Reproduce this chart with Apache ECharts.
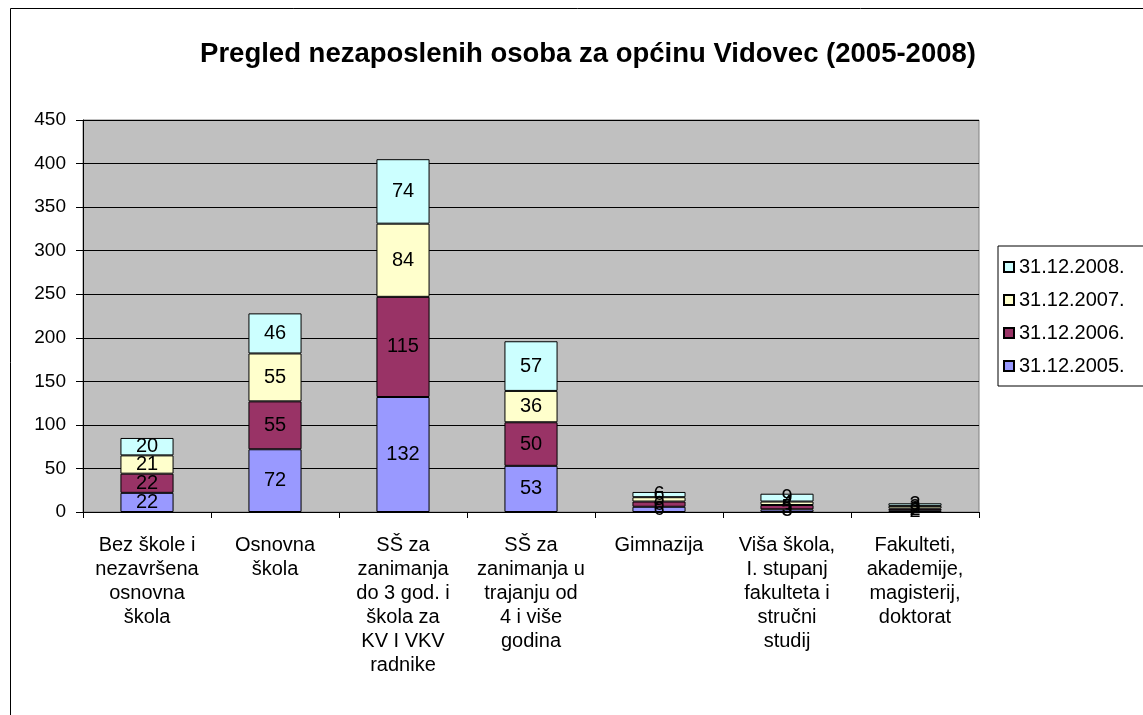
<!DOCTYPE html>
<html>
<head>
<meta charset="utf-8">
<script src="https://cdn.jsdelivr.net/npm/echarts@6/dist/echarts.min.js"></script>
<style>
  html, body { margin: 0; padding: 0; background: #fff; }
  #chart { width: 1143px; height: 715px; }
</style>
</head>
<body>
<div id="chart"></div>
<script>
const categories = [
  'Bez škole i\nnezavršena\nosnovna\nškola',
  'Osnovna\nškola',
  'SŠ za\nzanimanja\ndo 3 god. i\nškola za\nKV I VKV\nradnike',
  'SŠ za\nzanimanja u\ntrajanju od\n4 i više\ngodina',
  'Gimnazija',
  'Viša škola,\nI. stupanj\nfakulteta i\nstručni\nstudij',
  'Fakulteti,\nakademije,\nmagisterij,\ndoktorat'
]
const y2005 = [22, 72, 132, 53, 6, 3, 2]
const y2006 = [22, 55, 115, 50, 6, 5, 2]
const y2007 = [21, 55, 84, 36, 5, 4, 3]
const y2008 = [20, 46, 74, 57, 6, 9, 3]

const chart = echarts.init(document.getElementById('chart'))
const font = 'Liberation Sans, Arial, sans-serif'

function makeSeries(name, data, color) {
  return {
    name: name,
    type: 'bar',
    stack: 'total',
    barWidth: '41.5%',
    data: data,
    itemStyle: { color: color, borderColor: '#000', borderWidth: 1 },
    label: {
      show: true,
      position: 'inside',
      color: '#000',
      fontSize: 20,
      fontFamily: font
    }
  }
}

const option = {
  animation: false,
  title: {
    text: 'Pregled nezaposlenih osoba za općinu Vidovec (2005-2008)',
    left: 583,
    top: 35,
    textAlign: 'center',
    textStyle: { fontSize: 27.5, fontWeight: 'bold', fontFamily: font, color: '#000' }
  },
  graphic: [
    {
      type: 'rect',
      shape: { x: 10.5, y: 8.5, width: 1140, height: 720 },
      style: { fill: 'none', stroke: '#000', lineWidth: 1 },
      z: -10
    }
  ],
  legend: {
    orient: 'vertical',
    left: 998,
    top: 246,
    width: 160,
    padding: [11, 30, 10, 5],
    itemGap: 13,
    itemWidth: 10,
    itemHeight: 10,
    borderColor: '#000',
    borderWidth: 1,
    icon: 'rect',
    data: ['31.12.2008.', '31.12.2007.', '31.12.2006.', '31.12.2005.'],
    textStyle: { fontSize: 20, lineHeight: 20, fontFamily: font, color: '#000', padding: [0, 0, 0, 0] }
  },
  grid: {
    left: 83,
    right: 164,
    top: 120,
    bottom: 203,
    backgroundColor: '#c0c0c0',
    show: true,
    borderWidth: 1,
    borderColor: '#808080'
  },
  xAxis: {
    type: 'category',
    data: categories,
    axisLine: { lineStyle: { color: '#000' } },
    axisTick: { show: true, length: 6, lineStyle: { color: '#000' } },
    axisLabel: {
      interval: 0,
      color: '#000',
      fontSize: 20,
      fontFamily: font,
      lineHeight: 24,
      margin: 21,
      align: 'center'
    }
  },
  yAxis: {
    type: 'value',
    min: 0,
    max: 450,
    interval: 50,
    axisLine: { show: true, lineStyle: { color: '#000' } },
    axisTick: { show: true, length: 7, lineStyle: { color: '#000' } },
    splitLine: { lineStyle: { color: '#000' } },
    axisLabel: { color: '#000', fontSize: 19, fontFamily: font, margin: 17 }
  },
  series: [
    makeSeries('31.12.2005.', y2005, '#9999ff'),
    makeSeries('31.12.2006.', y2006, '#993366'),
    makeSeries('31.12.2007.', y2007, '#ffffcc'),
    makeSeries('31.12.2008.', y2008, '#ccffff')
  ]
}
chart.setOption(option)
</script>
</body>
</html>
